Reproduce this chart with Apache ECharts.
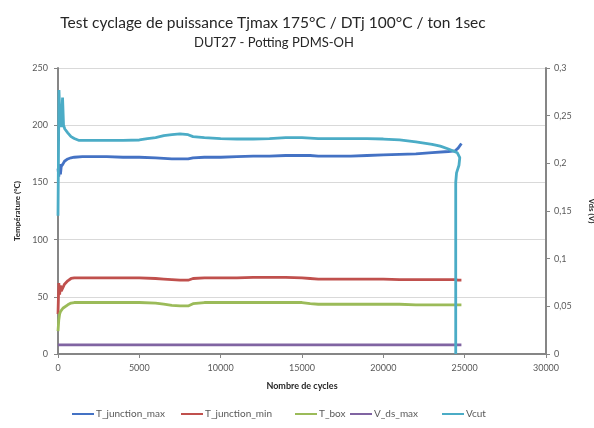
<!DOCTYPE html>
<html>
<head>
<meta charset="utf-8">
<script src="https://cdn.jsdelivr.net/npm/echarts@6/dist/echarts.min.js"></script>
<style>
  html, body { margin: 0; padding: 0; background: #ffffff; }
  #chart { width: 594px; height: 428px; }
</style>
</head>
<body>
<div id="chart"></div>
<script>
// Cycle counts shared by the temperature and V_ds series
const cycles = [0, 50, 100, 150, 200, 300, 400, 600, 800, 1000,
  1500, 2000, 3000, 4000, 5000, 6000, 6500, 7000, 7500, 8000,
  8300, 9000, 10000, 11000, 12000, 13000, 14000, 15000, 15500, 16000,
  17000, 18000, 19000, 20000, 21000, 22000, 23000, 24000, 24400, 24600, 24800];

// Temperatures in °C
const tJunctionMax = [162, 155, 166, 157, 164, 166, 168.5, 170.5, 171.5, 172,
  172.5, 172.5, 172.5, 172, 172, 171.5, 171, 170.5, 170.5, 170.5,
  171.5, 172, 172, 172.5, 173, 173, 173.5, 173.5, 173.5, 173,
  173, 173, 173.5, 174, 174.5, 175, 176, 177, 177.5, 180, 184];

const tJunctionMin = [35, 62, 52, 60, 55, 58, 61, 64, 66, 66.5,
  66.5, 66.5, 66.5, 66.5, 66.5, 66, 65.5, 65, 64.5, 64.5,
  66, 66.5, 66.5, 66.5, 67, 67, 67, 66.5, 66, 65.5,
  65.5, 65.5, 65.5, 65.5, 65, 65, 65, 65, 65, 64.5, 64.5];

const tBox = [20, 30, 35, 37, 38.5, 40, 41.5, 43, 44.5, 45,
  45, 45, 45, 45, 45, 44.5, 43.5, 42.5, 42, 42,
  44, 45, 45, 45, 45, 45, 45, 45, 44, 43.5,
  43.5, 43.5, 43.5, 43.5, 43.5, 43, 43, 43, 43, 43, 43];

const vDsMax = [8, 8, 8, 8, 8, 8, 8, 8, 8, 8,
  8, 8, 8, 8, 8, 8, 8, 8, 8, 8,
  8, 8, 8, 8, 8, 8, 8, 8, 8, 8,
  8, 8, 8, 8, 8, 8, 8, 8, 8, 8, 8];

// Vcut in volts (secondary axis), with its own cycle points
const vcutCycles = [0, 60, 120, 200, 280, 340, 420, 600, 800, 1000,
  1300, 2000, 3000, 4000, 5000, 5500, 6000, 6500, 7000, 7500,
  8000, 8300, 9000, 10000, 11000, 12000, 13000, 14000, 15000, 16000,
  17000, 18000, 19000, 20000, 21000, 22000, 23000, 23500, 24000, 24300,
  24550, 24700, 24650, 24500, 24450, 24450];

const vcut = [0.145, 0.277, 0.245, 0.238, 0.269, 0.240, 0.236, 0.232, 0.228, 0.226,
  0.224, 0.224, 0.224, 0.224, 0.2245, 0.226, 0.227, 0.229, 0.230, 0.231,
  0.230, 0.228, 0.227, 0.226, 0.2255, 0.2255, 0.226, 0.227, 0.227, 0.226,
  0.226, 0.226, 0.226, 0.2255, 0.2245, 0.2225, 0.220, 0.218, 0.215, 0.213,
  0.211, 0.206, 0.198, 0.190, 0.180, 0];

const seriesNames = ['T_junction_max', 'T_junction_min', 'T_box', 'V_ds_max', 'Vcut'];
const seriesColors = ['#4472C4', '#C0504D', '#9BBB59', '#8064A2', '#4BACC6'];
const legendLefts = [67, 176, 290, 345, 437];

const FONT = 'Lato, "Open Sans", sans-serif';
const AXIS_GREY = '#868686';
const LABEL_COLOR = '#595959';

function pairs(xs, ys) {
  return xs.map((x, i) => [x, ys[i]]);
}

const temperatureSeries = [tJunctionMax, tJunctionMin, tBox, vDsMax];

const series = temperatureSeries.map((vals, i) => ({
  name: seriesNames[i],
  type: 'line',
  yAxisIndex: 0,
  data: pairs(cycles, vals),
  showSymbol: false,
  lineStyle: { width: 2.8, color: seriesColors[i] },
  itemStyle: { color: seriesColors[i] }
}));

series.push({
  name: seriesNames[4],
  type: 'line',
  yAxisIndex: 1,
  data: pairs(vcutCycles, vcut),
  showSymbol: false,
  lineStyle: { width: 2.8, color: seriesColors[4] },
  itemStyle: { color: seriesColors[4] }
});

const legends = seriesNames.map((name, i) => ({
  data: [name],
  left: legendLefts[i],
  top: 404,
  icon: 'rect',
  itemWidth: 22,
  itemHeight: 2,
  itemGap: 0,
  textStyle: { fontFamily: FONT, fontSize: 10, color: LABEL_COLOR, padding: [0, 0, 0, -3] }
}));

const chart = echarts.init(document.getElementById('chart'), null, { renderer: 'canvas' });

chart.setOption({
  animation: false,
  backgroundColor: '#ffffff',
  title: [
    {
      text: 'Test cyclage de puissance Tjmax 175°C / DTj 100°C / ton 1sec',
      left: 268, top: 10, textAlign: 'center',
      textStyle: { fontFamily: FONT, fontSize: 15.5, fontWeight: 'normal', color: '#262626' }
    },
    {
      text: 'DUT27 - Potting PDMS-OH',
      left: 269, top: 31, textAlign: 'center',
      textStyle: { fontFamily: FONT, fontSize: 13, fontWeight: 'normal', color: '#262626' }
    }
  ],
  legend: legends,
  grid: { left: 58, right: 48, top: 68, bottom: 74, containLabel: false, outerBoundsMode: 'none' },
  xAxis: {
    type: 'value',
    min: 0, max: 30000, interval: 5000,
    name: 'Nombre de cycles',
    nameLocation: 'middle',
    nameGap: 28,
    nameTextStyle: { fontFamily: FONT, fontSize: 9, fontWeight: 'bold', color: '#262626' },
    axisLine: { show: true, onZero: false, lineStyle: { color: AXIS_GREY, width: 2 } },
    axisTick: { show: true, length: 4, lineStyle: { color: AXIS_GREY } },
    axisLabel: {
      fontFamily: FONT, fontSize: 9, color: LABEL_COLOR, margin: 10,
      formatter: v => String(v)
    },
    splitLine: { show: false }
  },
  yAxis: [
    {
      type: 'value',
      min: 0, max: 250, interval: 50,
      name: 'Température (°C)',
      nameLocation: 'middle',
      nameGap: 37,
      nameTextStyle: { fontFamily: FONT, fontSize: 8, fontWeight: 'bold', color: '#262626' },
      axisLine: { show: true, lineStyle: { color: AXIS_GREY, width: 2 } },
      axisTick: { show: true, length: 4, lineStyle: { color: AXIS_GREY } },
      axisLabel: { fontFamily: FONT, fontSize: 9, color: LABEL_COLOR, margin: 10 },
      splitLine: { show: true, lineStyle: { color: '#D9D9D9', width: 1 } }
    },
    {
      type: 'value',
      position: 'right',
      min: 0, max: 0.3, interval: 0.05,
      name: 'Vds (V)',
      nameLocation: 'middle',
      nameGap: 42,
      nameRotate: -90,
      nameTextStyle: { fontFamily: FONT, fontSize: 8, fontWeight: 'bold', color: '#262626' },
      axisLine: { show: true, lineStyle: { color: AXIS_GREY, width: 2 } },
      axisTick: { show: true, length: 4, lineStyle: { color: AXIS_GREY } },
      axisLabel: {
        fontFamily: FONT, fontSize: 9, color: LABEL_COLOR, margin: 8,
        formatter: v => String(Math.round(v * 100) / 100).replace('.', ',')
      },
      splitLine: { show: false }
    }
  ],
  series: series
});
</script>
</body>
</html>
